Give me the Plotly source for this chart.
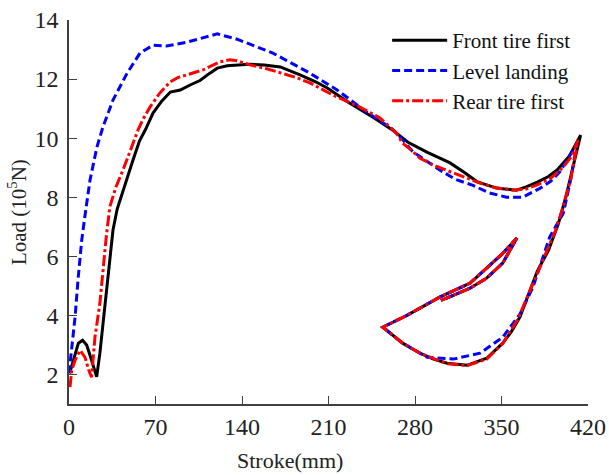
import plotly.graph_objects as go

# Front tire first (black, solid)
front_x = [0.5, 4.9, 7.6, 11, 14.3, 18.3, 22.4, 25, 27.8, 30.5, 32, 35.6, 39, 43.7, 48, 51.8,
           57, 62, 68, 75, 82, 90, 98, 106, 114, 120, 128, 136, 146, 158, 171, 187, 200, 209,
           227, 246, 262, 274, 290, 308, 320, 330, 346, 362, 370, 379, 388, 395, 405, 414,
           408, 402, 396, 388, 379, 372, 365, 358, 351, 338, 322, 306, 295, 284, 270, 254,
           273.5, 300, 324.5, 338, 351, 362.5, 351, 338, 324.5, 311, 301]
front_y = [2.04, 2.72, 3.06, 3.16, 3.0, 2.48, 1.92, 2.72, 3.84, 4.97, 5.6, 6.89, 7.6, 8.24, 8.8, 9.26,
           9.9, 10.3, 10.85, 11.25, 11.56, 11.63, 11.8, 11.95, 12.2, 12.37, 12.45, 12.48, 12.5, 12.48, 12.41, 12.14, 11.9, 11.7,
           11.19, 10.71, 10.27, 9.87, 9.52, 9.17, 8.84, 8.53, 8.31, 8.24, 8.35, 8.51, 8.7, 8.92, 9.4, 10.1,
           9.0, 8.0, 7.1, 6.2, 5.5, 4.7, 3.95, 3.45, 3.06, 2.55, 2.31, 2.38, 2.52, 2.72, 3.06, 3.6,
           4.0, 4.62, 5.09, 5.6, 6.1, 6.62, 5.77, 5.26, 4.92, 4.68, 4.51]

# Level landing (blue, dashed)
level_x = [0, 2.2, 4.9, 7.5, 10.3, 13, 17, 22.6, 27.5, 35.6, 47, 57.5, 68, 79, 95.5, 120, 136,
           165, 195, 217, 241, 262, 270, 278, 290, 300, 313, 327, 340, 354, 367, 381, 390, 397,
           405, 411, 406, 400, 389, 382, 375.5, 365, 351, 332.6, 311, 290, 270, 254,
           273.5, 300, 324.5, 338, 351, 362.5, 351, 338, 324.5, 311, 301]
level_y = [2.04, 2.92, 3.94, 5.3, 6.55, 7.4, 8.58, 9.7, 10.38, 11.29, 12.2, 12.88, 13.15, 13.12, 13.25, 13.53, 13.35,
           12.88, 12.2, 11.63, 10.88, 10.3, 9.95, 9.55, 9.2, 8.92, 8.6, 8.4, 8.15, 8.0, 8.0, 8.3, 8.55, 8.85,
           9.4, 9.8, 8.6, 7.46, 6.65, 5.8, 4.96, 4.05, 3.26, 2.72, 2.52, 2.58, 3.06, 3.6,
           4.0, 4.62, 5.09, 5.6, 6.1, 6.62, 5.77, 5.26, 4.92, 4.68, 4.51]

# Rear tire first (red, dash-dot)
rear_x = [0.8, 2.2, 4.9, 9, 13, 16, 18.3, 21, 25, 27.5, 30, 33, 38, 43.7, 50, 55.8, 60, 65.5,
          73, 81.7, 88, 95.5, 108.5, 122, 130, 136, 146.5, 160, 173, 184, 195, 213.6, 235.5,
          251.7, 265, 270, 277, 284, 297, 311, 332.6, 345, 359, 370, 378.5, 390, 400, 407, 412,
          406, 400, 394, 386, 378, 370, 363, 351, 338, 322, 306, 284, 270, 254,
          273.5, 300, 324.5, 338, 351, 362.5, 351, 338, 324.5, 311, 301]
rear_y = [1.57, 2.14, 2.48, 2.82, 2.58, 2.14, 1.91, 3.26, 4.41, 5.53, 6.6, 7.67, 8.35, 8.92, 9.6, 10.27, 10.65, 11.05,
          11.5, 11.9, 12.05, 12.14, 12.31, 12.58, 12.65, 12.62, 12.48, 12.35, 12.2, 12.05, 11.87, 11.46, 11.05,
          10.68, 10.17, 9.83, 9.6, 9.32, 9.05, 8.82, 8.48, 8.32, 8.24, 8.28, 8.41, 8.65, 9.02, 9.4, 9.94,
          8.6, 7.7, 6.9, 6.1, 5.3, 4.5, 3.85, 3.05, 2.52, 2.3, 2.36, 2.72, 3.06, 3.6,
          4.0, 4.62, 5.09, 5.6, 6.1, 6.62, 5.77, 5.26, 4.92, 4.68, 4.51]

x_ticks = [0, 70, 140, 210, 280, 350, 420]
y_ticks = [2, 4, 6, 8, 10, 12, 14]

FONT = "Times New Roman, Liberation Serif, serif"

fig = go.Figure()
fig.add_trace(go.Scatter(x=front_x, y=front_y, mode="lines", name="Front tire first",
                         line=dict(color="black", width=3)))
fig.add_trace(go.Scatter(x=level_x, y=level_y, mode="lines", name="Level landing",
                         line=dict(color="#0000ff", width=3, dash="8px,4px")))
fig.add_trace(go.Scatter(x=rear_x, y=rear_y, mode="lines", name="Rear tire first",
                         line=dict(color="#ff0000", width=3, dash="11px,3px,3px,3px")))

axis_style = dict(
    showgrid=False, zeroline=False, showline=True, linecolor="#404040", linewidth=1.5,
    ticks="inside", ticklen=8, tickwidth=1.3, tickcolor="#404040", automargin=False,
    tickfont=dict(family=FONT, size=24, color="#222222"),
)

fig.update_layout(
    width=609, height=475,
    margin=dict(l=69, r=21, t=20, b=71),
    plot_bgcolor="white", paper_bgcolor="white",
    font=dict(family=FONT, color="#222222"),
    xaxis=dict(range=[0, 420], tickvals=x_ticks, ticklabelstandoff=0, **axis_style),
    yaxis=dict(range=[1, 14], tickvals=y_ticks, ticklabelstandoff=4, **axis_style),
    legend=dict(
        x=0.613, y=1.0, xanchor="left", yanchor="top",
        bgcolor="rgba(0,0,0,0)", itemwidth=55, tracegroupgap=0,
        font=dict(family=FONT, size=21, color="#111111"),
    ),
    showlegend=True,
)

fig.add_annotation(text="Stroke(mm)", xref="paper", yref="paper", x=0.426, y=-0.146,
                   xanchor="center", yanchor="middle", showarrow=False,
                   font=dict(family=FONT, size=22, color="#222222"))
fig.add_annotation(text="Load (10<sup>5</sup>N)", xref="paper", yref="paper", x=-0.1, y=0.5,
                   xanchor="center", yanchor="middle", textangle=-90, showarrow=False,
                   font=dict(family=FONT, size=21, color="#222222"))

# the page body has an 8px default margin; drop it so the figure sits at the window's corner
fig.write_html("out.html", config={"displayModeBar": False},
               post_script="document.body.style.margin='0';")
